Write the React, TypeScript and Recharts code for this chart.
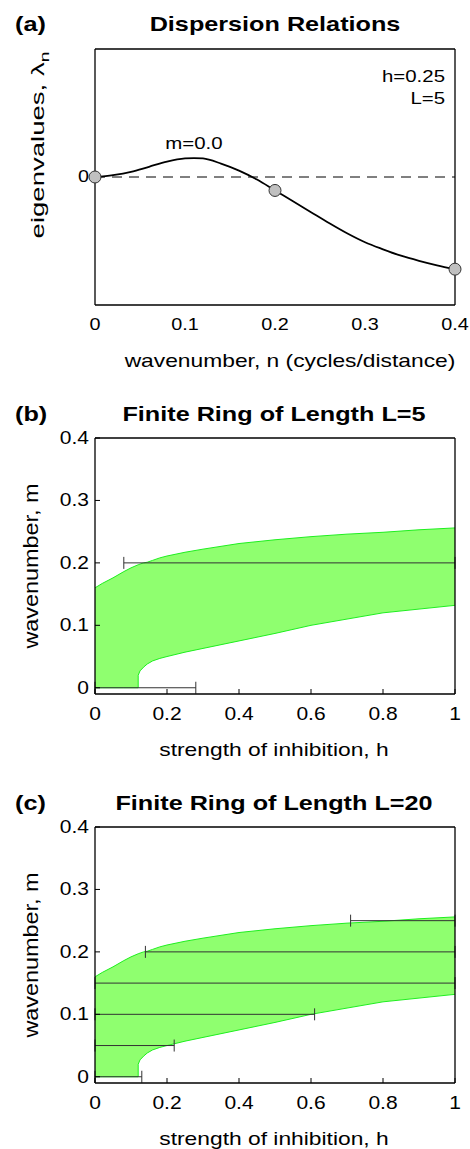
import React from "react";
import {
  ComposedChart, Line, Area, Scatter, ErrorBar, XAxis, YAxis, ReferenceLine,
} from "recharts";

const FONT = '"Liberation Sans", Arial, Helvetica, sans-serif';
const SX = 1.2; // glyphs in this figure run wide
const INK = "#000";
const BAR = "#333";

// (a) dispersion relation, m = 0
const dispN = [0, 0.02, 0.04, 0.06, 0.08, 0.1, 0.11, 0.12, 0.14, 0.16, 0.18, 0.2, 0.22, 0.24, 0.26, 0.28, 0.3, 0.32, 0.34, 0.36, 0.38, 0.4];
const dispLambda = [0, 0.015, 0.04, 0.08, 0.12, 0.145, 0.148, 0.145, 0.105, 0.05, -0.02, -0.105, -0.19, -0.275, -0.36, -0.44, -0.51, -0.565, -0.615, -0.655, -0.69, -0.72];
const markerN = [0, 0.2, 0.4];

// (b), (c) unstable band in (h, m)
const bandH = [0, 0.02, 0.05, 0.08, 0.1, 0.12, 0.12, 0.125, 0.135, 0.145, 0.16, 0.18, 0.2, 0.25, 0.3, 0.4, 0.5, 0.6, 0.7, 0.8, 0.9, 1.0];
const bandLow = [0, 0, 0, 0, 0, 0, 0.02, 0.027, 0.033, 0.038, 0.043, 0.047, 0.05, 0.057, 0.063, 0.075, 0.087, 0.1, 0.11, 0.12, 0.126, 0.132];
const bandHigh = [0.16, 0.167, 0.176, 0.186, 0.192, 0.197, 0.197, 0.198, 0.2, 0.201, 0.204, 0.208, 0.211, 0.217, 0.222, 0.231, 0.237, 0.242, 0.246, 0.249, 0.253, 0.256];

// allowed modes on the ring: wavenumber and h-interval
const l5M = [0, 0.2];
const l5From = [0, 0.08];
const l5To = [0.28, 1];

const l20M = [0, 0.05, 0.1, 0.15, 0.2, 0.25];
const l20From = [0, 0, 0, 0, 0.14, 0.71];
const l20To = [0.13, 0.22, 0.61, 1, 1, 1];

const nTicks = [0, 0.1, 0.2, 0.3, 0.4];
const hTicks = [0, 0.2, 0.4, 0.6, 0.8, 1];
const mTicks = [0, 0.1, 0.2, 0.3, 0.4];

const dispRows = dispN.map((n, i) => ({ n, lam: dispLambda[i] }));
const markerRows = dispRows.filter((r) => markerN.includes(r.n));
const bandRows = bandH.map((h, i) => ({ h, range: [bandLow[i], bandHigh[i]] }));

const modeRows = (ms: number[], from: number[], to: number[]) =>
  ms.map((m, i) => ({ h: (from[i] + to[i]) / 2, m, err: (to[i] - from[i]) / 2 }));

const PANEL_H = 389;
const MARGIN = { top: 41, bottom: 54, left: 55, right: 7 };

function Txt({ x, y, size, bold, anchor = "middle", rotate, stretch = SX, children }: any) {
  const tx = anchor === "middle" ? "-50%" : anchor === "end" ? "-100%" : "0";
  const origin = anchor === "middle" ? "center" : anchor === "end" ? "right" : "left";
  return (
    <div
      style={{
        position: "absolute", left: x, top: y, whiteSpace: "nowrap", lineHeight: 1,
        fontSize: size, fontWeight: bold ? 700 : 400, color: INK,
        transformOrigin: rotate ? "center" : `${origin} center`,
        transform: rotate
          ? `translate(-50%,-50%) rotate(-90deg) scaleX(${stretch})`
          : `translate(${tx},-50%) scaleX(${stretch})`,
      }}
    >
      {children}
    </div>
  );
}

const label = (x: number, y: number, size: number, v: number, anchor: string) => (
  <text
    transform={`translate(${x},${y}) scale(${SX},1)`}
    textAnchor={anchor}
    dominantBaseline="central"
    fontSize={size}
    fontFamily={FONT}
    fill={INK}
  >
    {String(v)}
  </text>
);

const bottomTick = (marks: boolean, size: number) => (p: any) => (
  <g>
    {marks && <line x1={p.x} y1={p.y} x2={p.x} y2={p.y - 5} stroke={INK} />}
    {label(p.x, p.y + 20, size, p.payload.value, "middle")}
  </g>
);
const leftTick = (marks: boolean, size: number) => (p: any) => (
  <g>
    {marks && <line x1={p.x} y1={p.y} x2={p.x + 5} y2={p.y} stroke={INK} />}
    {label(p.x - 6, p.y, size, p.payload.value, "end")}
  </g>
);
const topTick = (marks: boolean) => (p: any) =>
  marks ? <line x1={p.x} y1={p.y} x2={p.x} y2={p.y + 5} stroke={INK} /> : <g />;
const rightTick = (marks: boolean) => (p: any) =>
  marks ? <line x1={p.x} y1={p.y} x2={p.x - 5} y2={p.y} stroke={INK} /> : <g />;

// four axes make the closed box
function BoxAxes({ xKey, xDomain, xTicks, yDomain, yTicks, marks, size }: any) {
  const axisLine = { stroke: INK, strokeWidth: 1.3 };
  return [
    <XAxis key="xb" xAxisId={0} dataKey={xKey} type="number" domain={xDomain} ticks={xTicks}
      interval={0} height={30} tickSize={0} tickMargin={0} tickLine={false}
      axisLine={axisLine} tick={bottomTick(marks, size)} />,
    <XAxis key="xt" xAxisId="top" orientation="top" type="number" domain={xDomain} ticks={xTicks}
      interval={0} height={8} tickSize={0} tickMargin={0} tickLine={false}
      axisLine={axisLine} tick={topTick(marks)} />,
    <YAxis key="yl" yAxisId={0} type="number" domain={yDomain} ticks={yTicks}
      interval={0} width={40} tickSize={0} tickMargin={0} tickLine={false}
      axisLine={axisLine} tick={leftTick(marks, size)} />,
    <YAxis key="yr" yAxisId="right" orientation="right" type="number" domain={yDomain} ticks={yTicks}
      interval={0} width={8} tickSize={0} tickMargin={0} tickLine={false}
      axisLine={axisLine} tick={rightTick(marks)} />,
  ];
}

function Dispersion() {
  return (
    <div style={{ position: "absolute", left: 0, top: 0, width: 470, height: PANEL_H }}>
      <ComposedChart width={470} height={PANEL_H} margin={MARGIN}>
        {BoxAxes({ xKey: "n", xDomain: [0, 0.4], xTicks: nTicks, yDomain: [-1, 1], yTicks: [0], marks: false, size: 16.5 })}
        <ReferenceLine y={0} stroke={INK} strokeWidth={1} strokeDasharray="10 7" />
        <Line data={dispRows} dataKey="lam" type="monotone" stroke={INK} strokeWidth={1.8} dot={false} isAnimationActive={false} />
        <Scatter
          data={markerRows}
          dataKey="lam"
          isAnimationActive={false}
          shape={(p: any) => <circle cx={p.cx} cy={p.cy} r={6} fill="#c0c0c0" stroke="#333" strokeWidth={1} />}
        />
      </ComposedChart>
      <Txt x={15} y={23} size={21} bold anchor="start">(a)</Txt>
      <Txt x={275} y={23} size={21} bold>Dispersion Relations</Txt>
      <Txt x={40} y={145} size={19} rotate stretch={1.45}>
        eigenvalues, λ<sub style={{ fontSize: "0.7em" }}>n</sub>
      </Txt>
      <Txt x={290} y={360} size={19}>wavenumber, n (cycles/distance)</Txt>
      <Txt x={194} y={143} size={17}>m=0.0</Txt>
      <Txt x={445} y={76} size={17} anchor="end">h=0.25</Txt>
      <Txt x={445} y={98} size={17} anchor="end">L=5</Txt>
    </div>
  );
}

function Ring({ top, tag, title, ms, from, to }: any) {
  return (
    <div style={{ position: "absolute", left: 0, top, width: 470, height: PANEL_H }}>
      <ComposedChart width={470} height={PANEL_H} margin={MARGIN}>
        {BoxAxes({ xKey: "h", xDomain: [0, 1], xTicks: hTicks, yDomain: [-0.01, 0.4], yTicks: mTicks, marks: true, size: 17.5 })}
        <Area
          data={bandRows}
          dataKey="range"
          type="linear"
          fill="#8fff6f"
          fillOpacity={1}
          stroke="#1fef1f"
          strokeWidth={1}
          isAnimationActive={false}
        />
        <Scatter data={modeRows(ms, from, to)} dataKey="m" isAnimationActive={false} shape={() => <g />}>
          <ErrorBar dataKey="err" direction="x" width={6} stroke={BAR} strokeWidth={1} />
        </Scatter>
      </ComposedChart>
      <Txt x={15} y={24} size={21} bold anchor="start">{tag}</Txt>
      <Txt x={274} y={24} size={21} bold>{title}</Txt>
      <Txt x={32} y={177} size={19.5} rotate>wavenumber, m</Txt>
      <Txt x={274} y={360} size={19}>strength of inhibition, h</Txt>
    </div>
  );
}

export default function App() {
  return (
    <div
      style={{
        position: "absolute", left: 0, top: 0, width: 470, height: 1149,
        overflow: "hidden", background: "#fff", fontFamily: FONT,
      }}
    >
      <Dispersion />
      <Ring top={389} tag="(b)" title="Finite Ring of Length L=5" ms={l5M} from={l5From} to={l5To} />
      <Ring top={778} tag="(c)" title="Finite Ring of Length L=20" ms={l20M} from={l20From} to={l20To} />
    </div>
  );
}
